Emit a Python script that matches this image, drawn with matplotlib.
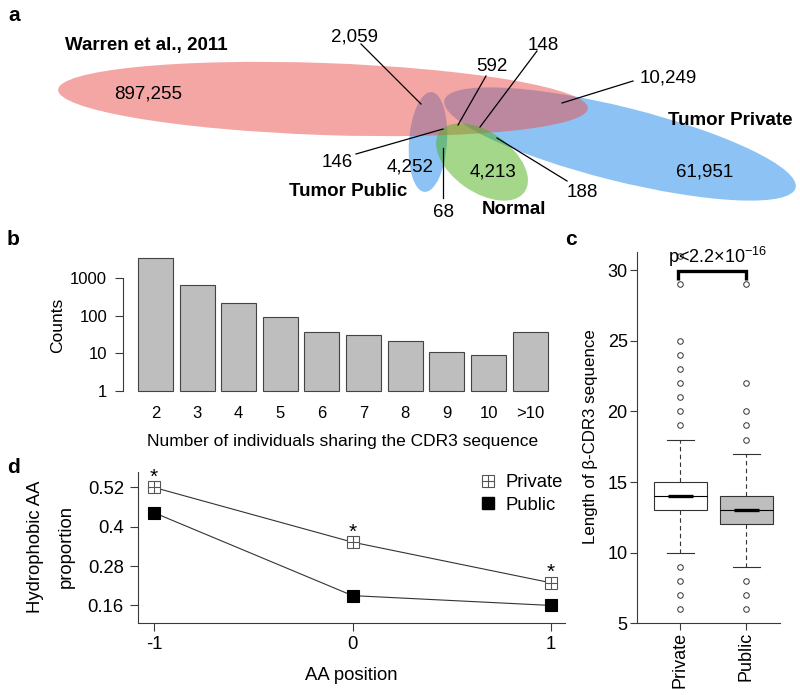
import matplotlib
matplotlib.use("Agg")
import matplotlib.pyplot as plt
from matplotlib.patches import Ellipse
from matplotlib.lines import Line2D
from matplotlib.legend_handler import HandlerTuple
from matplotlib.ticker import FixedLocator, NullLocator
import numpy as np

plt.rcParams['font.family'] = ['Liberation Sans', 'DejaVu Sans']
plt.rcParams['mathtext.fontset'] = 'custom'
plt.rcParams['mathtext.rm'] = 'Liberation Sans'
plt.rcParams['mathtext.it'] = 'Liberation Sans:italic'
plt.rcParams['mathtext.bf'] = 'Liberation Sans:bold'
plt.rcParams['axes.unicode_minus'] = False

# ------------------------------------------------------------------ data
# panel a: Venn-like overlap counts
venn_set_names = ["Warren et al., 2011", "Tumor Private", "Tumor Public", "Normal"]
venn_region_counts = [897255, 61951, 4252, 4213, 10249, 2059, 592, 148, 146, 68, 188]

# panel b: number of individuals sharing a CDR3 sequence
share_categories = ["2", "3", "4", "5", "6", "7", "8", "9", "10", ">10"]
share_counts = [3400, 650, 225, 95, 38, 31, 21, 11, 9, 37]
share_ticks = [1, 10, 100, 1000]

# panel c: CDR3 length boxplots
box_groups = ["Private", "Public"]
box_q1 = [13, 12]
box_median = [14, 13]
box_q3 = [15, 14]
box_whisker_low = [10, 9]
box_whisker_high = [18, 17]
private_outliers = [31, 29, 25, 24, 23, 22, 21, 20, 19, 9, 8, 7, 6]
public_outliers = [29, 22, 20, 19, 18, 8, 7, 6]
length_ticks = [5, 10, 15, 20, 25, 30]

# panel d: hydrophobic AA proportion
aa_positions = [-1, 0, 1]
private_hydrophobic = [0.52, 0.353, 0.229]
public_hydrophobic = [0.443, 0.190, 0.160]
private_significant = [True, True, True]
prop_ticks = [0.16, 0.28, 0.40, 0.52]
prop_tick_labels = ["0.16", "0.28", "0.4", "0.52"]

# ------------------------------------------------------------------ layout helpers
W, H = 800, 695
fig = plt.figure(figsize=(W / 100, H / 100), dpi=100)


def axes_px(x0, y0, x1, y1):
    return fig.add_axes([x0 / W, 1 - y1 / H, (x1 - x0) / W, (y1 - y0) / H])


def ftext(x, y, s, **kw):
    return fig.text(x / W, 1 - y / H, s, **kw)


def pt2px(pt):
    return pt * 100 / 72


AX_COL = '#3a3a3a'

# ------------------------------------------------------------------ panel a
ax_a = axes_px(0, 0, 800, 230)
ax_a.set_xlim(0, 800)
ax_a.set_ylim(230, 0)
ax_a.axis('off')

RED = (233 / 255, 79 / 255, 75 / 255)
BLUE = (29 / 255, 137 / 255, 235 / 255)
GREEN = (77 / 255, 177 / 255, 25 / 255)
# (centre, width, height, angle, colour) for each set, drawing order
ellipse_layout = {
    "Tumor Private": ((620, 144), 362, 74, 14, BLUE),
    "Tumor Public": ((428, 142), 38, 100, 4, BLUE),
    "Warren et al., 2011": ((323, 99), 530, 72, 2, RED),
    "Normal": ((482, 162), 104, 60, 35, GREEN),
}
for name in ["Tumor Private", "Tumor Public", "Warren et al., 2011", "Normal"]:
    c, w, h, ang, col = ellipse_layout[name]
    ax_a.add_patch(Ellipse(c, w, h, angle=ang, facecolor=col, alpha=0.5,
                           edgecolor='none'))

NUM_FS = 13.5
# label position (visual centre) and optional leader line, per region count
region_layout = [
    ((148, 92), None),
    ((705, 170), None),
    ((410, 165), None),
    ((493, 170), None),
    ((668, 76), ((633, 81), (562, 103))),
    ((355, 35), ((361, 44), (421, 104))),
    ((492, 64), ((486, 76), (458, 125))),
    ((543, 43), ((537, 51), (480, 127))),
    ((337, 160), ((356, 154), (443, 129))),
    ((444, 210), ((443, 198), (443, 148))),
    ((582, 190), ((567, 181), (497, 138))),
]
for val, ((tx, ty), line) in zip(venn_region_counts, region_layout):
    ax_a.text(tx, ty + 0.358 * pt2px(NUM_FS), f"{val:,}", ha='center',
              va='baseline', fontsize=NUM_FS, color='black')
    if line is not None:
        (x0, y0), (x1, y1) = line
        ax_a.plot([x0, x1], [y0, y1], color='black', lw=0.9)

name_layout = {
    "Warren et al., 2011": (65, 43, 'left'),
    "Tumor Private": (668, 118, 'left'),
    "Tumor Public": (407, 189, 'right'),
    "Normal": (514, 207, 'center'),
}
for name in venn_set_names:
    x, y, ha = name_layout[name]
    ax_a.text(x, y + 0.358 * pt2px(NUM_FS), name, ha=ha, va='baseline',
              fontsize=NUM_FS, fontweight='bold')

# ------------------------------------------------------------------ panel b
B_TICK = 12
B_LAB = 12.5
ax_b = axes_px(122.5, 255, 551, 393)
xb = np.arange(len(share_categories))
ax_b.set_yscale('log')
ax_b.bar(xb, np.array(share_counts) - 1, bottom=1, width=0.84,
         color='#bebebe', edgecolor='#444444', linewidth=0.8)
ax_b.set_xlim(-0.79, 9.5)
ax_b.set_ylim(10 ** (-2 / 37.6), 10 ** (136 / 37.6))
for s in ['top', 'right', 'bottom']:
    ax_b.spines[s].set_visible(False)
ax_b.spines['left'].set_bounds(1, 1000)
ax_b.spines['left'].set_color(AX_COL)
ax_b.spines['left'].set_linewidth(0.8)
ax_b.yaxis.set_major_locator(FixedLocator(share_ticks))
ax_b.yaxis.set_minor_locator(NullLocator())
ax_b.set_yticklabels([str(t) for t in share_ticks])
ax_b.set_xticks(xb)
ax_b.set_xticklabels(share_categories)
ax_b.tick_params(axis='y', length=6, width=0.8, color=AX_COL, pad=5,
                 labelsize=B_TICK)
ax_b.tick_params(axis='x', length=0, pad=9, labelsize=B_TICK)
ftext(58, 325, "Counts", rotation=90, ha='center', va='center', fontsize=B_LAB)
ftext(342.5, 440 + 0.358 * pt2px(B_LAB),
      "Number of individuals sharing the CDR3 sequence",
      ha='center', va='baseline', fontsize=B_LAB)

# ------------------------------------------------------------------ panel c
C_TICK = 13
ax_c = axes_px(636.7, 251.7, 780, 623.3)
stats = []
for i, g in enumerate(box_groups):
    stats.append(dict(label=g, q1=box_q1[i], med=box_median[i], q3=box_q3[i],
                      whislo=box_whisker_low[i], whishi=box_whisker_high[i],
                      fliers=[private_outliers, public_outliers][i]))
bp = ax_c.bxp(stats, positions=[1, 2], widths=0.8, capwidths=0.4,
              patch_artist=True,
              boxprops=dict(edgecolor='#333333', linewidth=0.8),
              whiskerprops=dict(color='#333333', linewidth=0.8,
                                linestyle=(0, (4, 3))),
              capprops=dict(color='#333333', linewidth=0.8),
              medianprops=dict(color='black', linewidth=0.8),
              flierprops=dict(marker='o', markerfacecolor='none',
                              markeredgecolor='#333333', markersize=4.0,
                              markeredgewidth=0.7))
for patch, fc in zip(bp['boxes'], ['white', '#bebebe']):
    patch.set_facecolor(fc)
ax_c.hlines(box_median, [p - 0.19 for p in [1, 2]], [p + 0.19 for p in [1, 2]],
            colors='black', linewidth=2.4, zorder=5)
ax_c.set_xlim(0.336, 2.51)
ax_c.set_ylim(5, 31.3)
for s in ['top', 'right']:
    ax_c.spines[s].set_visible(False)
for s in ['left', 'bottom']:
    ax_c.spines[s].set_color(AX_COL)
    ax_c.spines[s].set_linewidth(0.8)
ax_c.set_yticks(length_ticks)
ax_c.set_yticklabels([str(t) for t in length_ticks])
ax_c.set_xticks([1, 2])
ax_c.set_xticklabels(box_groups, rotation=90, va='top', ha='center')
ax_c.tick_params(axis='y', length=5, width=0.8, color=AX_COL, pad=1.5,
                 labelsize=C_TICK)
ax_c.tick_params(axis='x', length=5, width=0.8, color=AX_COL, pad=1,
                 labelsize=C_TICK)
ax_c.plot([0.958, 0.958, 1.988, 1.988], [29.3, 29.95, 29.95, 29.3],
          color='black', lw=2.4, solid_capstyle='butt', solid_joinstyle='miter',
          clip_on=False, zorder=6)
ftext(668, 263.3, r'p<2.2×10$^{-16}$', ha='left', va='baseline',
      fontsize=C_TICK)
ftext(591, 437, "Length of β-CDR3 sequence", rotation=90, ha='center',
      va='center', fontsize=12.2)

# ------------------------------------------------------------------ panel d
D_FS = 13.3
ax_d = axes_px(137.7, 471.7, 565, 622.5)
ax_d.plot(aa_positions, private_hydrophobic, color='#333333', lw=0.8, zorder=1)
ax_d.plot(aa_positions, public_hydrophobic, color='#333333', lw=0.8, zorder=1)
MS = 8.6
ax_d.plot(aa_positions, private_hydrophobic, ls='none', marker='s', ms=MS,
          mfc='white', mec='#555555', mew=0.8, zorder=3)
ax_d.plot(aa_positions, private_hydrophobic, ls='none', marker='+', ms=MS,
          mec='#555555', mew=0.8, zorder=4)
ax_d.plot(aa_positions, public_hydrophobic, ls='none', marker='s', ms=MS,
          mfc='black', mec='black', mew=0.8, zorder=3)
for x, y, sig in zip(aa_positions, private_hydrophobic, private_significant):
    if sig:
        ax_d.annotate('*', (x, y), xytext=(0, 0.5), textcoords='offset points',
                      ha='center', va='bottom', fontsize=15)
ax_d.set_xlim(-1.082, 1.07)
ax_d.set_ylim(0.108, 0.568)
for s in ['top', 'right']:
    ax_d.spines[s].set_visible(False)
for s in ['left', 'bottom']:
    ax_d.spines[s].set_color(AX_COL)
    ax_d.spines[s].set_linewidth(0.8)
ax_d.set_xticks(aa_positions)
ax_d.set_xticklabels([str(p) for p in aa_positions])
ax_d.set_yticks(prop_ticks)
ax_d.set_yticklabels(prop_tick_labels)
ax_d.tick_params(axis='both', length=6, width=0.8, color=AX_COL, pad=4,
                 labelsize=D_FS)
h_priv = (Line2D([], [], ls='none', marker='s', ms=MS, mfc='white',
                 mec='#555555', mew=0.8),
          Line2D([], [], ls='none', marker='+', ms=MS, mec='#555555', mew=0.8))
h_pub = Line2D([], [], ls='none', marker='s', ms=MS, mfc='black', mec='black')
ax_d.legend([h_priv, h_pub], box_groups, handler_map={tuple: HandlerTuple(ndivide=1)},
            loc='upper left', bbox_to_anchor=(479 / W, 1 - 474 / H),
            bbox_transform=fig.transFigure, frameon=False, borderpad=0,
            borderaxespad=0, handlelength=1.0, handletextpad=0.45,
            labelspacing=0.3, fontsize=D_FS)
ftext(36, 547, "Hydrophobic AA", rotation=90, ha='center', va='center',
      fontsize=D_FS)
ftext(66, 547, "proportion", rotation=90, ha='center', va='center',
      fontsize=D_FS)
ftext(351, 673 + 0.358 * pt2px(D_FS), "AA position", ha='center',
      va='baseline', fontsize=D_FS)

# ------------------------------------------------------------------ panel letters
for letter, x, y in [('a', 8, 21), ('b', 7, 245), ('c', 565, 245), ('d', 7, 473)]:
    ftext(x, y, letter, ha='left', va='baseline', fontsize=15, fontweight='bold')

fig.savefig('out.png', dpi=100)
